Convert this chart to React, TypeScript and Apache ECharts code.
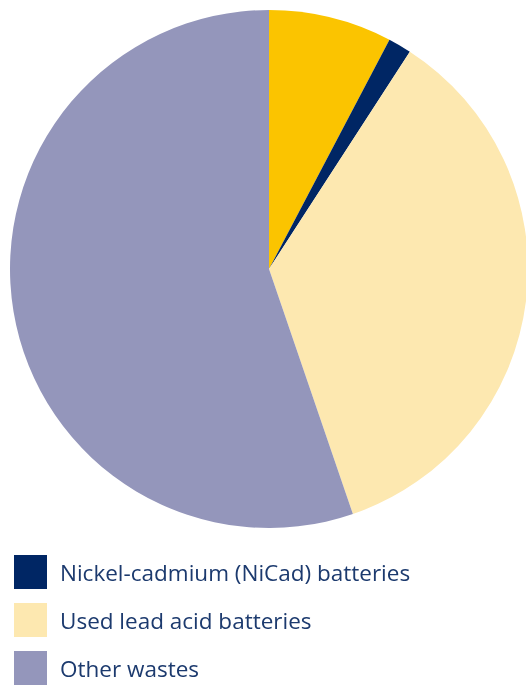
import React, { useEffect, useRef } from "react";
import * as echarts from "echarts";

const categories = ["Lead-based wastes", "Nickel-cadmium (NiCad) batteries", "Used lead acid batteries", "Other wastes"];
const values = [7.7, 1.45, 35.6, 55.25];
const colors = ["#FBC400", "#002664", "#FDE8B0", "#9496BB"];
const legendNames = ["Nickel-cadmium (NiCad) batteries", "Used lead acid batteries", "Other wastes"];

export default function App() {
  const ref = useRef<HTMLDivElement>(null);
  useEffect(() => {
    if (!ref.current) return;
    const chart = echarts.init(ref.current, null, { renderer: "svg" });
    chart.setOption({
      animation: false,
      legend: {
        data: legendNames,
        orient: "vertical",
        left: 14,
        top: 555,
        height: 134,
        padding: 0,
        itemWidth: 33,
        itemHeight: 34,
        itemGap: 14,
        icon: "rect",
        selectedMode: false,
        textStyle: {
          fontFamily: "Open Sans",
          fontSize: 22.5,
          color: "#1C3A6E",
          padding: [0, 0, 0, 8],
        },
      },
      series: [
        {
          type: "pie",
          center: [269, 269],
          radius: 259,
          startAngle: 90,
          clockwise: true,
          label: { show: false },
          labelLine: { show: false },
          emphasis: { disabled: true },
          itemStyle: { borderWidth: 0 },
          data: categories.map((name, i) => ({
            name,
            value: values[i],
            itemStyle: { color: colors[i] },
          })),
        },
      ],
    });
    return () => chart.dispose();
  }, []);
  return (
    <div
      ref={ref}
      style={{ position: "fixed", left: 0, top: 0, width: 526, height: 689 }}
    />
  );
}
